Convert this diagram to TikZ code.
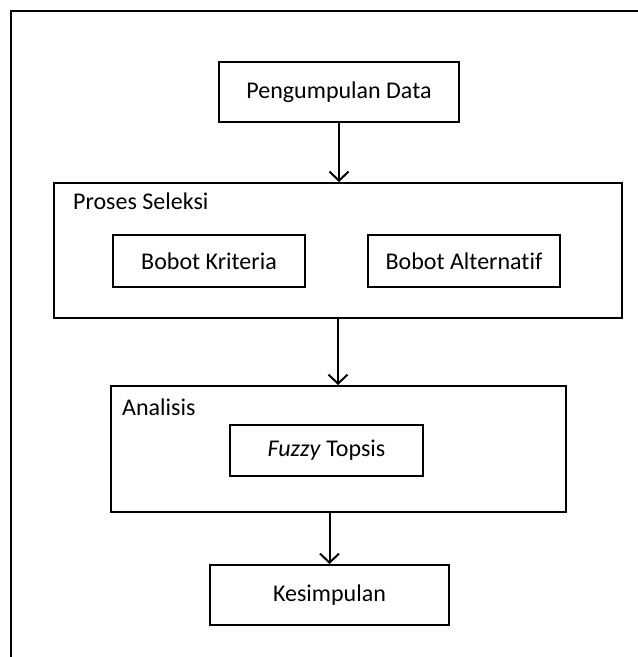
\documentclass[tikz,border=0pt]{standalone}
\usepackage{fontspec}
\setmainfont{Carlito}[Ligatures=NoCommon]
\usetikzlibrary{arrows.meta}

\begin{document}
\begin{tikzpicture}[x=1pt, y=-1pt, line cap=round,
    box/.style={draw, line width=2pt, inner sep=0pt, font=\fontsize{24}{28}\selectfont},
    group/.style={draw, line width=2pt, inner sep=0pt},
    title/.style={inner sep=0pt, font=\fontsize{24}{28}\selectfont},
    flow/.style={line width=2pt, -{Straight Barb[length=9pt, width=19pt]}}]

    \useasboundingbox (0,0) rectangle (638,657);
    \draw [line width=1.5pt, line cap=butt] (638,11) -- (11,11) -- (11,657);

    \node [box, minimum width=240, minimum height=60] (data) at (339,92) {Pengumpulan Data};

    \node [group, minimum width=568, minimum height=135] (seleksi) at (338,250.5) {};
    \node [title, anchor=base west] (seleksititle) at (73,209) {Proses Seleksi};
    \node [box, minimum width=192, minimum height=52] (kriteria) at (209,261) {Bobot Kriteria};
    \node [box, minimum width=192, minimum height=52] (alternatif) at (464,261) {Bobot Alternatif};

    \node [group, minimum width=455, minimum height=126] (analisis) at (338.5,449) {};
    \node [title, anchor=base west] (analisistitle) at (122,415) {Analisis};
    \node [box, minimum width=193, minimum height=51] (topsis) at (326.5,450.5) {\textit{Fuzzy} Topsis};

    \node [box, minimum width=239, minimum height=60] (kesimpulan) at (329.5,595) {Kesimpulan};

    \draw [flow] (data.south) -- (data.south |- seleksi.north);
    \draw [flow] (seleksi.south) -- (seleksi.south |- analisis.north);
    \draw [flow] (kesimpulan.north |- analisis.south) -- (kesimpulan.north);

\end{tikzpicture}
\end{document}
